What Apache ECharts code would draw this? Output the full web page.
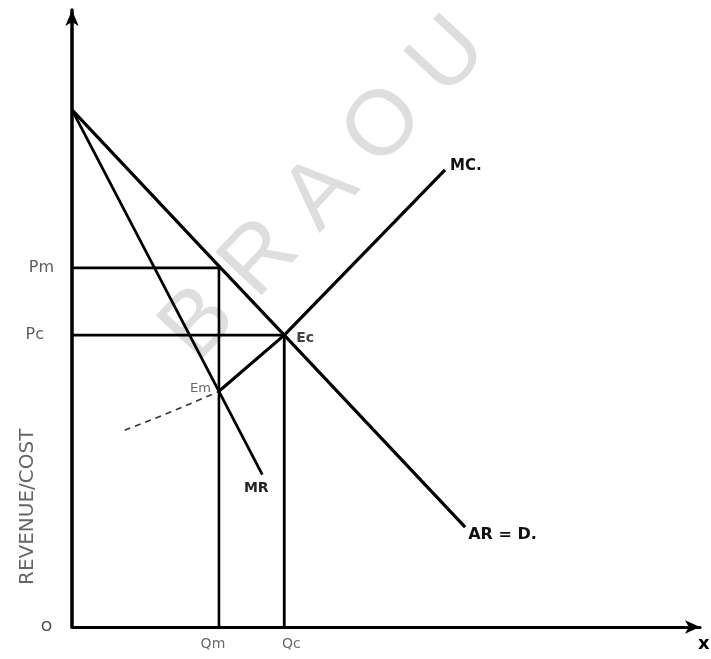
<!DOCTYPE html>
<html><head><meta charset="utf-8">
<script src="https://cdn.jsdelivr.net/npm/echarts@6/dist/echarts.min.js"></script>
<style>html,body{margin:0;padding:0;background:#fff}#c{width:711px;height:659px}</style>
</head><body><div id="c"></div>
<script>
// Quantity / price readings (axis units 0..100)
const Pm = 58.2, Pc = 47.3, Qm = 23.4, Qc = 33.8;
const arX = [0, Qm, Qc, 62.6];
const arY = [83.8, 58.5, 47.3, 16.2];
const mrX = [0, 23.4, 30.3];
const mrY = [83.8, 38.2, 24.7];
const mcX = [23.4, 33.8, 59.4];
const mcY = [38.2, 47.3, 74.1];
const mcDashX = [8.4, 15.6, 23.4];
const mcDashY = [31.9, 34.8, 38.2];
const priceLabels = ['Pm', 'Pc'];
const qtyLabels = ['Qm', 'Qc'];

const zip = (a, b) => a.map((v, i) => [v, b[i]]);
const lbl = {fontFamily: 'DejaVu Sans', color: '#111', fontSize: 13};

const chart = echarts.init(document.getElementById('c'));
chart.setOption({
  animation: false,
  backgroundColor: '#fff',
  grid: {left: 72, top: 10, width: 628, height: 617, containLabel: false},
  xAxis: {type: 'value', min: 0, max: 100,
    axisLine: {show: true, onZero: false, symbol: ['none', 'arrow'], symbolSize: [10, 15], lineStyle: {color: '#000', width: 3}},
    axisTick: {show: false}, axisLabel: {show: false}, splitLine: {show: false}},
  yAxis: {type: 'value', min: 0, max: 100,
    axisLine: {show: true, onZero: false, symbol: ['none', 'arrow'], symbolSize: [10, 16], lineStyle: {color: '#000', width: 3.5}},
    axisTick: {show: false}, axisLabel: {show: false}, splitLine: {show: false}},
  graphic: [
    {type: 'text', z: -10, x: 325, y: 190, rotation: 0.82,
     style: {text: 'B R A O U', font: '92px "Liberation Sans"', fill: '#dedede', align: 'center', verticalAlign: 'middle'}},
    {type: 'text', z: 5, x: 18, y: 585, rotation: Math.PI / 2,
     style: {text: 'REVENUE/COST', font: '20px "DejaVu Sans"', fill: '#666'}},
    {type: 'text', z: 5, x: 41, y: 620, style: {text: 'O', font: '14px "DejaVu Sans"', fill: '#444'}},
    {type: 'text', z: 5, x: 698, y: 635, style: {text: 'x', font: 'bold 18px "DejaVu Sans"', fill: '#000'}}
  ],
  series: [
    {type: 'line', data: zip(arX, arY), symbol: 'none', lineStyle: {color: '#000', width: 3.2},
     markPoint: {symbol: 'circle', symbolSize: 0,
       data: [{coord: [arX[3], arY[3]], label: {show: true, formatter: 'AR = D.', position: 'right', offset: [-2, 8], ...lbl, fontWeight: 'bold', fontSize: 16}}]}},
    {type: 'line', data: zip(mrX, mrY), symbol: 'none', lineStyle: {color: '#000', width: 2.8},
     markPoint: {symbol: 'circle', symbolSize: 0,
       data: [{coord: [mrX[2], mrY[2]], label: {show: true, formatter: 'MR', position: 'bottom', offset: [-6, 2], ...lbl, fontWeight: 'bold', fontSize: 14, color: '#222'}}]}},
    {type: 'line', data: zip(mcX, mcY), symbol: 'none', lineStyle: {color: '#000', width: 3.2},
     markPoint: {symbol: 'circle', symbolSize: 0,
       data: [{coord: [mcX[2], mcY[2]], label: {show: true, formatter: 'MC.', position: 'right', offset: [0, -4], ...lbl, fontWeight: 'bold', fontSize: 15}}]}},
    {type: 'line', data: zip(mcDashX, mcDashY), symbol: 'none', smooth: true, lineStyle: {color: '#333', width: 1.6, type: [6, 5]}},
    // guide lines
    {type: 'line', data: [[0, Pm], [Qm, Pm], [Qm, 0]], symbol: 'none', lineStyle: {color: '#000', width: 2.6}},
    {type: 'line', data: [[0, Pc], [Qc, Pc], [Qc, 0]], symbol: 'none', lineStyle: {color: '#000', width: 2.8}},
    // text labels attached to points
    {type: 'scatter', symbolSize: 0, z: 5,
     data: [
       {value: [0, Pm], label: {show: true, formatter: priceLabels[0], position: 'left', distance: 18, ...lbl, fontSize: 16, color: '#333'}},
       {value: [0, Pc], label: {show: true, formatter: priceLabels[1], position: 'left', distance: 28, ...lbl, fontSize: 16, color: '#333'}},
       {value: [Qm, 0], label: {show: true, formatter: qtyLabels[0], position: 'bottom', distance: 10, offset: [-6, 0], ...lbl, fontSize: 14, color: '#444'}},
       {value: [Qc, 0], label: {show: true, formatter: qtyLabels[1], position: 'bottom', distance: 10, offset: [7, 0], ...lbl, fontSize: 14, color: '#444'}},
       {value: [Qc, Pc], label: {show: true, formatter: 'Ec', position: 'right', distance: 12, offset: [0, 3], ...lbl, fontWeight: 'bold', fontSize: 14}},
       {value: [mrX[1], mrY[1]], label: {show: true, formatter: 'Em', position: 'left', distance: 8, offset: [0, -3], ...lbl, fontSize: 13, color: '#444'}}
     ]}
  ]
});
</script></body></html>
